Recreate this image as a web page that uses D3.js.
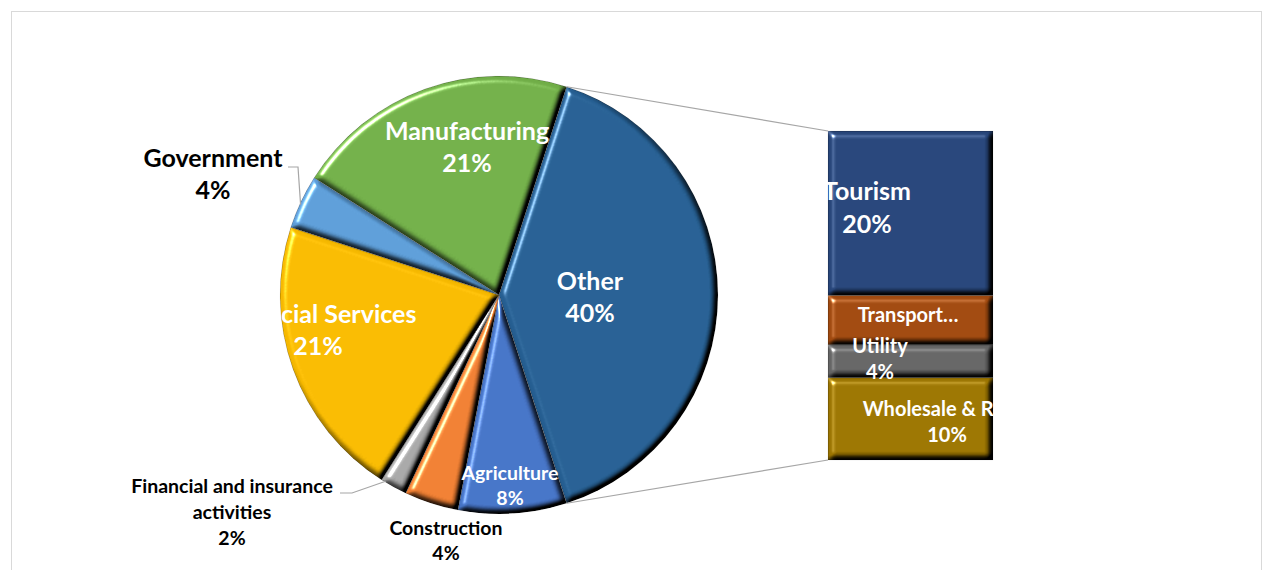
<!DOCTYPE html>
<html>
<head>
<meta charset="utf-8">
<script src="https://cdn.jsdelivr.net/npm/d3@7"></script>
<style>
  html, body { margin: 0; padding: 0; background: #ffffff; }
  svg { display: block; }
  text { font-family: Lato, "Open Sans", sans-serif; font-weight: 700; }
</style>
</head>
<body>
<svg id="chart" width="1264" height="570"></svg>
<script>
// Share of the economy by sector; "Other" is broken out into the bar on the right.
const pieCategories = ["Other", "Agriculture", "Construction", "Financial and insurance activities",
                       "Financial Services", "Government", "Manufacturing"];
const pieValues = [40, 8, 4, 2, 21, 4, 21];
const pieColors = ["#255e91", "#4472c4", "#ed7d31", "#a5a5a5", "#f5b800", "#5b9bd5", "#70ad47"];

const barCategories = ["Tourism", "Transportation", "Utility", "Wholesale & Retail"];
const barValues = [20, 6, 4, 10];
const barColors = ["#264478", "#9e480e", "#636363", "#997300"];

// Label text lines (category name split where the chart wraps it)
const pieLabelLines = [["Other"], ["Agriculture"], ["Construction"], ["Financial and insurance", "activities"],
                       ["Financial Services"], ["Government"], ["Manufacturing"]];
const barLabelLines = [["Tourism"], ["Transport…"], ["Utility"], ["Wholesale & Retail"]];
const barShowPercent = [true, false, true, true];

const svg = d3.select("#chart");

// chart frame
svg.append("rect")
  .attr("x", 11.5).attr("y", 11.5).attr("width", 1250).attr("height", 620)
  .attr("fill", "#ffffff").attr("stroke", "#d9d9d9").attr("stroke-width", 1);

// bevel: lighting from the top-left, darker on the far edges
const defs = svg.append("defs");
const f = defs.append("filter").attr("id", "bevel")
  .attr("x", "-5%").attr("y", "-5%").attr("width", "110%").attr("height", "110%")
  .attr("color-interpolation-filters", "sRGB");
f.append("feGaussianBlur").attr("in", "SourceAlpha").attr("stdDeviation", 3).attr("result", "blur");
f.append("feDiffuseLighting").attr("in", "blur").attr("surfaceScale", 6)
  .attr("diffuseConstant", 1.4142).attr("lighting-color", "#ffffff").attr("result", "diff")
  .append("feDistantLight").attr("azimuth", 225).attr("elevation", 45);
f.append("feSpecularLighting").attr("in", "blur").attr("surfaceScale", 6)
  .attr("specularConstant", 1.1).attr("specularExponent", 28).attr("lighting-color", "#ffffff").attr("result", "spec")
  .append("feDistantLight").attr("azimuth", 225).attr("elevation", 30);
f.append("feComposite").attr("in", "SourceGraphic").attr("in2", "diff").attr("operator", "arithmetic")
  .attr("k1", 1).attr("k2", 0).attr("k3", 0).attr("k4", 0).attr("result", "shaded");
f.append("feComposite").attr("in", "spec").attr("in2", "SourceAlpha").attr("operator", "in").attr("result", "specIn");
f.append("feComposite").attr("in", "shaded").attr("in2", "specIn").attr("operator", "arithmetic")
  .attr("k1", 0).attr("k2", 1).attr("k3", 0.9).attr("k4", 0).attr("result", "lit");
f.append("feComposite").attr("in", "lit").attr("in2", "SourceAlpha").attr("operator", "in");

// ---------- pie ----------
const cx = 499, cy = 295, R = 219;
const otherSpan = pieValues[0] / d3.sum(pieValues) * 2 * Math.PI;
const start = Math.PI / 2 - otherSpan / 2;          // "Other" is centred on the right side
const pie = d3.pie().sort(null).value(d => d).startAngle(start).endAngle(start + 2 * Math.PI);
const arcs = pie(pieValues);
const arc = d3.arc().innerRadius(0).outerRadius(R);
const onRim = (a, r = R) => [cx + r * Math.sin(a), cy - r * Math.cos(a)];

const gPie = svg.append("g").attr("transform", `translate(${cx},${cy})`);
gPie.selectAll("path.slice").data(arcs).join("path")
  .attr("class", "slice")
  .attr("d", arc)
  .attr("fill", (d, i) => pieColors[i])
  .attr("stroke", "rgba(0,0,0,0.4)").attr("stroke-width", 0.8)
  .attr("filter", "url(#bevel)");

// ---------- bar for the "Other" breakdown ----------
const barX0 = 828, barX1 = 993;
const y = d3.scaleLinear().domain([0, d3.sum(barValues)]).range([131, 460]);
const stacked = [];
barValues.reduce((acc, v, i) => { stacked.push({ i, y0: acc, y1: acc + v }); return acc + v; }, 0);
svg.append("g").selectAll("rect").data(stacked).join("rect")
  .attr("x", barX0).attr("width", barX1 - barX0)
  .attr("y", d => y(d.y0)).attr("height", d => y(d.y1) - y(d.y0))
  .attr("fill", d => barColors[d.i])
  .attr("stroke", "rgba(0,0,0,0.45)").attr("stroke-width", 0.8)
  .attr("filter", "url(#bevel)");

// connector lines from the "Other" slice to the bar
const [ox0, oy0] = onRim(arcs[0].startAngle);
const [ox1, oy1] = onRim(arcs[0].endAngle);
svg.append("line").attr("x1", ox0).attr("y1", oy0).attr("x2", barX0).attr("y2", y(0))
  .attr("stroke", "#a6a6a6").attr("stroke-width", 1.2);
svg.append("line").attr("x1", ox1).attr("y1", oy1).attr("x2", barX0).attr("y2", y(d3.sum(barValues)))
  .attr("stroke", "#a6a6a6").attr("stroke-width", 1.2);

// ---------- labels ----------
const pieLabelLayout = [
  { x: 590, y: 290, size: 25, gap: 32, fill: "#ffffff" },
  { x: 510, y: 480, size: 19.5, gap: 25, fill: "#ffffff" },
  { x: 446, y: 535, size: 19.5, gap: 25, fill: "#000000" },
  { x: 232, y: 493, size: 19.5, gap: 26, fill: "#000000", leader: [[340, 493], [352, 493]], anchor: 0.85 },
  { x: 318, y: 323, size: 25, gap: 32, fill: "#ffffff" },
  { x: 213, y: 167, size: 25, gap: 32, fill: "#000000", leader: [[288, 167], [298, 167]], anchor: 0.45 },
  { x: 467, y: 140, size: 25, gap: 32, fill: "#ffffff" }
];

// leader lines for labels placed outside the pie
pieLabelLayout.forEach((L, i) => {
  if (!L.leader) return;
  const a = arcs[i].startAngle + L.anchor * (arcs[i].endAngle - arcs[i].startAngle);
  const pts = L.leader.concat([onRim(a, R - 1)]);
  svg.append("path").attr("d", d3.line()(pts))
    .attr("fill", "none").attr("stroke", "#a6a6a6").attr("stroke-width", 1.2);
});

function drawLabel(lines, L) {
  const t = svg.append("text").attr("text-anchor", "middle")
    .attr("font-size", L.size).attr("fill", L.fill);
  lines.forEach((s, k) => {
    t.append("tspan").attr("x", L.x).attr("y", L.y + k * L.gap).text(s);
  });
}

pieValues.forEach((v, i) => {
  drawLabel(pieLabelLines[i].concat([`${v}%`]), pieLabelLayout[i]);
});

const barLabelLayout = [
  { x: 867, y: 200, size: 25, gap: 33, fill: "#ffffff" },
  { x: 908, y: 322, size: 20, gap: 26, fill: "#ffffff" },
  { x: 880, y: 353, size: 20, gap: 26, fill: "#ffffff" },
  { x: 947, y: 416, size: 20, gap: 26, fill: "#ffffff" }
];
barValues.forEach((v, i) => {
  const lines = barLabelLines[i].concat(barShowPercent[i] ? [`${v}%`] : []);
  drawLabel(lines, barLabelLayout[i]);
});
</script>
</body>
</html>
